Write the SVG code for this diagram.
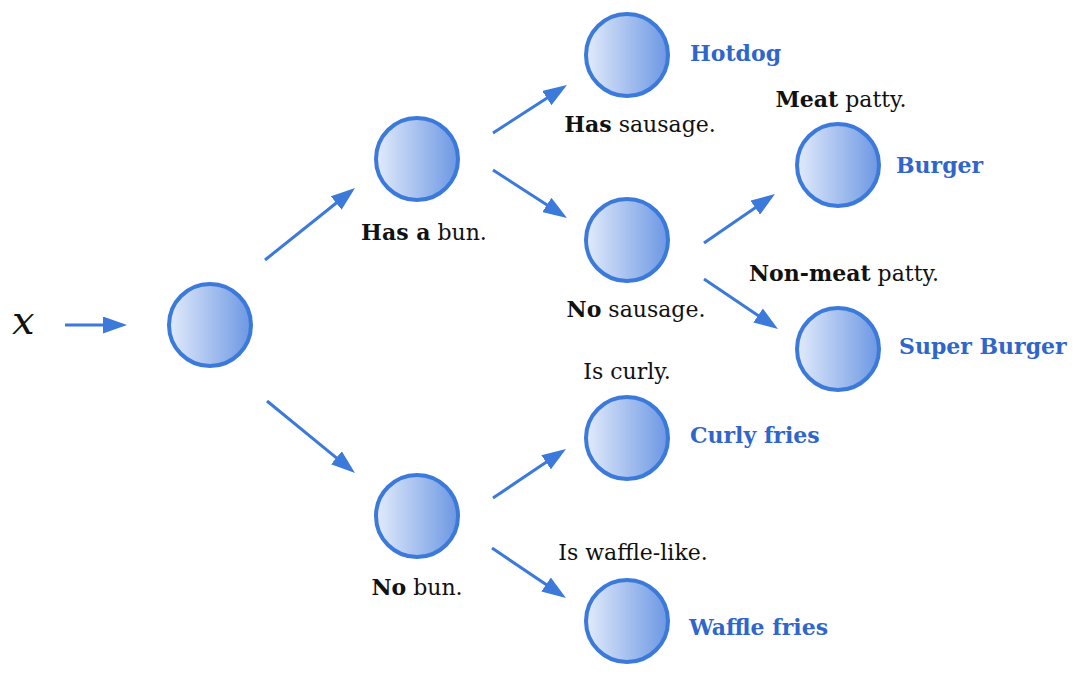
<svg xmlns="http://www.w3.org/2000/svg" width="1080" height="679" viewBox="0 0 1080 679">
<style>
.node{fill:url(#g);stroke:#3b79da;stroke-width:4}
.lbl{font-family:'DejaVu Serif',serif;font-size:22px;fill:#111;text-anchor:middle}
.b{font-weight:bold}
.out{font-family:'DejaVu Serif',serif;font-size:22px;font-weight:bold;fill:#2f66cc}
.mx{font-family:'DejaVu Serif',serif;font-style:italic;font-size:40px;fill:#111}
.arr{stroke:#3b79da;stroke-width:3;fill:none;marker-end:url(#ah)}
</style>
<defs>
<linearGradient id="g" x1="0" y1="0" x2="1" y2="0">
<stop offset="0" stop-color="#e2ebfb"/>
<stop offset="1" stop-color="#6c97e3"/>
</linearGradient>
<marker id="ah" markerUnits="userSpaceOnUse" markerWidth="24" markerHeight="17" refX="4" refY="8.5" orient="auto" viewBox="0 0 24 17">
<path d="M0,0 L24,8.5 L0,17 z" fill="#3b79da"/>
</marker>
</defs>
<rect width="1080" height="679" fill="#fff"/>
<g id="connectors">
<line class="arr" x1="65" y1="325" x2="107" y2="325"/>
<line class="arr" x1="265" y1="260" x2="339.4" y2="200.5"/>
<line class="arr" x1="267" y1="401" x2="339.5" y2="460.3"/>
<line class="arr" x1="493" y1="133" x2="550.2" y2="95.9"/>
<line class="arr" x1="493" y1="170" x2="550.2" y2="207.1"/>
<line class="arr" x1="704" y1="243" x2="758.5" y2="205.4"/>
<line class="arr" x1="704" y1="279" x2="761.4" y2="317.8"/>
<line class="arr" x1="493" y1="498" x2="549.4" y2="460.1"/>
<line class="arr" x1="492" y1="548" x2="549.4" y2="586.8"/>
</g>
<g id="input"><text class="mx" x="12" y="334">x</text></g>
<g id="root"><circle class="node" cx="210" cy="325" r="41"/></g>
<g id="hasbun"><circle class="node" cx="417" cy="159" r="41"/>
<text class="lbl" x="424" y="240"><tspan class="b">Has a</tspan> bun.</text></g>
<g id="nobun"><circle class="node" cx="417" cy="516" r="41"/>
<text class="lbl" x="417" y="595"><tspan class="b">No</tspan> bun.</text></g>
<g id="hotdog"><circle class="node" cx="627" cy="55" r="41"/>
<text class="lbl" x="640" y="132"><tspan class="b">Has</tspan> sausage.</text>
<text class="out" x="690" y="61">Hotdog</text></g>
<g id="nosausage"><circle class="node" cx="627" cy="240" r="41"/>
<text class="lbl" x="636" y="317"><tspan class="b">No</tspan> sausage.</text></g>
<g id="burger"><circle class="node" cx="838" cy="165" r="41"/>
<text class="lbl" x="841" y="107"><tspan class="b">Meat</tspan> patty.</text>
<text class="out" x="896" y="173">Burger</text></g>
<g id="superburger"><circle class="node" cx="838" cy="349" r="41"/>
<text class="lbl" x="844" y="281"><tspan class="b">Non-meat</tspan> patty.</text>
<text class="out" x="899" y="354">Super Burger</text></g>
<g id="curlyfries"><circle class="node" cx="627" cy="438" r="41"/>
<text class="lbl" x="627" y="379">Is curly.</text>
<text class="out" x="690" y="443">Curly fries</text></g>
<g id="wafflefries"><circle class="node" cx="627" cy="621" r="41"/>
<text class="lbl" x="633" y="560">Is waffle-like.</text>
<text class="out" x="689" y="635">Waffle fries</text></g>
</svg>
